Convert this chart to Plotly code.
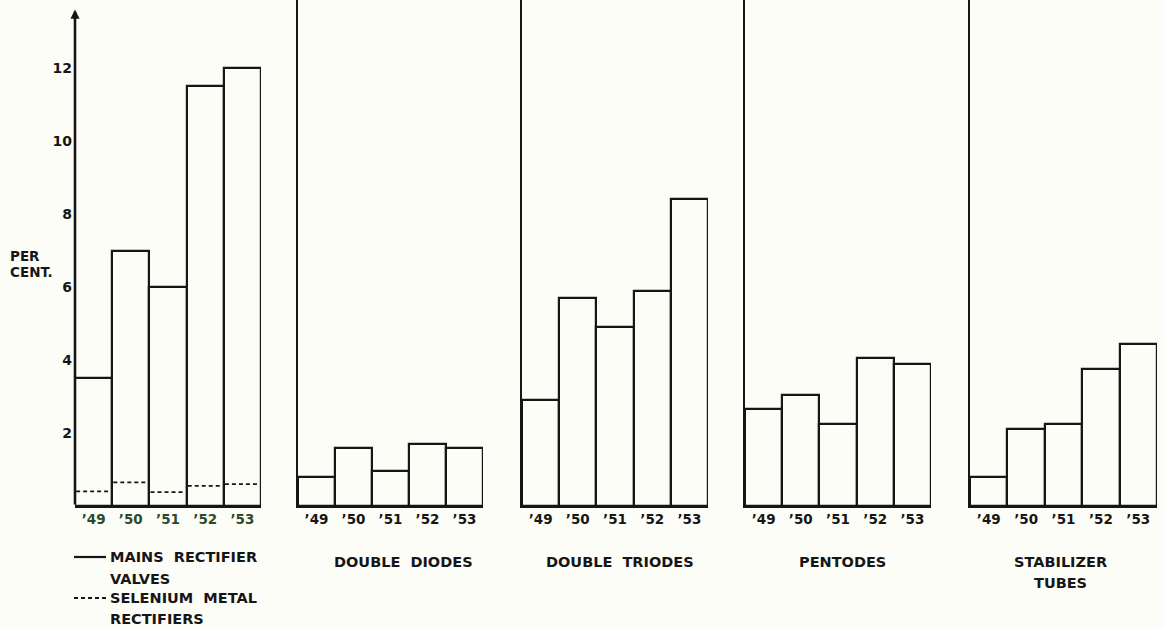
import plotly.graph_objects as go

years = ["’49", "’50", "’51", "’52", "’53"]
mains_rectifier = [3.5, 7.0, 6.0, 11.5, 12.0]
selenium_metal = [0.4, 0.65, 0.38, 0.55, 0.6]
double_diodes = [0.8, 1.6, 0.95, 1.7, 1.6]
double_triodes = [2.9, 5.7, 4.9, 5.9, 8.4]
pentodes = [2.65, 3.05, 2.25, 4.05, 3.9]
stabilizer_tubes = [0.8, 2.1, 2.25, 3.75, 4.45]
y_ticks = [2, 4, 6, 8, 10, 12]

panels = [mains_rectifier, double_diodes, double_triodes, pentodes, stabilizer_tubes]
titles = [None, ["DOUBLE  DIODES"], ["DOUBLE  TRIODES"], ["PENTODES"], ["STABILIZER", "TUBES"]]

W, H = 1164, 628
BOTTOM = 122
PLOT_H = H - BOTTOM
PX_PER_UNIT = 36.5
domains_px = [(75, 261), (298, 483), (522, 708), (745, 931), (970, 1157)]

BG = "#fdfdf8"
INK = "#161616"
FONT = "DejaVu Sans"

fig = go.Figure()
xpos = list(range(len(years)))

for i, vals in enumerate(panels):
    sfx = "" if i == 0 else str(i + 1)
    fig.add_trace(go.Bar(
        x=xpos, y=vals, width=1.0,
        marker=dict(color=BG, line=dict(color=INK, width=2.2)),
        xaxis="x" + sfx, yaxis="y" + sfx, showlegend=False, hoverinfo="y",
    ))
    if i == 0:
        xs, ys = [], []
        for xi, v in zip(xpos, selenium_metal):
            xs += [xi - 0.47, xi + 0.47, None]
            ys += [v, v, None]
        fig.add_trace(go.Scatter(
            x=xs, y=ys, mode="lines",
            line=dict(color=INK, width=1.8, dash="4px,3px"),
            xaxis="x", yaxis="y", showlegend=False, hoverinfo="skip",
        ))

    d0, d1 = domains_px[i]
    fig.layout["xaxis" + sfx] = dict(
        domain=[d0 / W, d1 / W], range=[-0.5, 4.5], anchor="y" + sfx,
        tickvals=xpos, ticktext=years, ticks="", showgrid=False, zeroline=False,
        showline=True, linewidth=2.2, linecolor=INK,
        tickfont=dict(family=FONT, size=13.5, weight="bold",
                      color="#2c4a2c" if i == 0 else INK),
        fixedrange=True,
    )
    fig.layout["yaxis" + sfx] = dict(
        domain=[0, 1], range=[0, PLOT_H / PX_PER_UNIT], anchor="x" + sfx,
        showgrid=False, zeroline=False, ticks="",
        showline=(i != 0), linewidth=2.2, linecolor=INK,
        tickvals=y_ticks if i == 0 else [], showticklabels=(i == 0),
        tickfont=dict(family=FONT, size=14, weight="bold", color=INK),
        ticklabelstandoff=2, fixedrange=True,
    )

def px_x(px):
    return px / W

def px_y(py):
    return (PLOT_H - py) / PLOT_H

annotations = []
annotations.append(dict(
    x=0, xref="x domain", y=13.6, yref="y",
    ax=0, ay=13.6 * PX_PER_UNIT, axref="pixel", ayref="pixel",
    showarrow=True, arrowhead=2, arrowsize=0.7, arrowwidth=2.6, arrowcolor=INK,
    text="",
))
for txt, py in [("PER", 256), ("CENT.", 272)]:
    annotations.append(dict(x=px_x(8), y=px_y(py), xref="paper", yref="paper",
                            text=txt, showarrow=False, xanchor="left", yanchor="middle",
                            font=dict(family=FONT, size=13.5, weight="bold", color=INK)))
for txt, py in [("MAINS  RECTIFIER", 557), ("VALVES", 579),
                ("SELENIUM  METAL", 598), ("RECTIFIERS", 619)]:
    annotations.append(dict(x=px_x(108), y=px_y(py), xref="paper", yref="paper",
                            text=txt, showarrow=False, xanchor="left", yanchor="middle",
                            font=dict(family=FONT, size=14.5, weight="bold", color=INK)))
title_centers = [None, 403, 620, 842, 1060]
for i, t in enumerate(titles):
    if not t:
        continue
    for j, line in enumerate(t):
        annotations.append(dict(x=px_x(title_centers[i]), y=px_y(562 + 21 * j),
                                xref="paper", yref="paper", text=line, showarrow=False,
                                xanchor="center", yanchor="middle",
                                font=dict(family=FONT, size=14.5, weight="bold", color=INK)))

shapes = [
    dict(type="line", xref="paper", yref="paper", x0=px_x(74), x1=px_x(106),
         y0=px_y(557), y1=px_y(557), line=dict(color=INK, width=2.2)),
    dict(type="line", xref="paper", yref="paper", x0=px_x(74), x1=px_x(108),
         y0=px_y(598), y1=px_y(598), line=dict(color=INK, width=1.8, dash="4px,3px")),
]

fig.update_layout(
    width=W, height=H, autosize=False,
    margin=dict(l=0, r=0, t=0, b=BOTTOM, pad=0),
    paper_bgcolor=BG, plot_bgcolor=BG,
    bargap=0, showlegend=False,
    annotations=annotations, shapes=shapes,
    font=dict(family=FONT, size=13, color=INK),
)

fig.write_html(
    "out.html",
    config={"displayModeBar": False, "staticPlot": False},
    post_script="document.body.style.margin='0';document.body.style.background='" + BG + "';"
                "document.body.style.overflow='hidden';",
)
